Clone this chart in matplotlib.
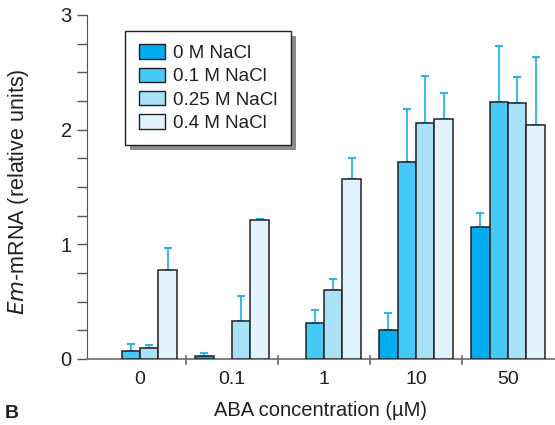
import numpy as np
import matplotlib
matplotlib.use('Agg')
import matplotlib.pyplot as plt
from matplotlib.patches import Rectangle
from matplotlib.transforms import IdentityTransform

plt.rcParams['font.family'] = ['Liberation Sans', 'DejaVu Sans']

# data (nan = no bar)
aba = ['0', '0.1', '1', '10', '50']
series = ['0 M NaCl', '0.1 M NaCl', '0.25 M NaCl', '0.4 M NaCl']
nacl_0 = [np.nan, 0.03, np.nan, 0.25, 1.15]
nacl_01 = [0.07, np.nan, 0.31, 1.72, 2.24]
nacl_025 = [0.10, 0.33, 0.60, 2.06, 2.23]
nacl_04 = [0.78, 1.21, 1.57, 2.09, 2.04]
err_0 = [np.nan, 0.02, np.nan, 0.15, 0.12]
err_01 = [0.06, np.nan, 0.12, 0.46, 0.49]
err_025 = [0.02, 0.22, 0.10, 0.41, 0.23]
err_04 = [0.19, 0.01, 0.18, 0.23, 0.59]

values = [nacl_0, nacl_01, nacl_025, nacl_04]
errors = [err_0, err_01, err_025, err_04]
colors = ['#00aeef', '#47c9f5', '#a9e1f9', '#e1f3fc']
err_color = '#2ab4ea'
ink = '#231f20'

fig = plt.figure(figsize=(5.55, 4.25), dpi=100)
ax = fig.add_axes([87 / 555, 66 / 425, 468 / 555, 344 / 425])

x = np.arange(len(aba))
w = 0.2
for i, (vals, errs) in enumerate(zip(values, errors)):
    vals = np.array(vals)
    errs = np.array(errs)
    pos = x + (i - 1.5) * w
    ok = ~np.isnan(vals)
    ax.bar(pos[ok], vals[ok], w, color=colors[i], edgecolor=ink,
           linewidth=1.1, zorder=3, label=series[i])
    ax.errorbar(pos[ok], vals[ok], yerr=[np.zeros(ok.sum()), errs[ok]],
                fmt='none', ecolor=err_color, elinewidth=1.3, capsize=3,
                capthick=1.5, zorder=2)

ax.set_xlim(-0.576, 4.51)
ax.set_ylim(0, 3)
ax.spines['top'].set_visible(False)
ax.spines['right'].set_visible(False)
ax.spines['left'].set_color('#555555')
ax.spines['bottom'].set_color('#777777')
ax.spines['bottom'].set_linewidth(1.3)

ax.set_yticks([0, 1, 2, 3])
ax.set_yticks(np.arange(0, 3.01, 0.25), minor=True)
ax.tick_params(axis='y', which='both', length=7, width=1, color='#555555',
               labelsize=14.5, labelcolor=ink, pad=4)
ax.set_xticks(x)
ax.set_xticklabels(aba)
ax.tick_params(axis='x', length=0, labelsize=14, labelcolor=ink, pad=9)
for b in x[:-1] + 0.5:
    ax.plot([b, b], [-0.045, 0.03], color='#666666', lw=1.2,
            clip_on=False, zorder=4)

ax.set_xlabel('ABA concentration (\u00b5M)', fontsize=14.5, color=ink,
              labelpad=9)
ax.set_ylabel('$\\mathit{Em}$-mRNA (relative units)', fontsize=15.5,
              color=ink)
ax.yaxis.set_label_coords(-0.12, 0.485)
fig.text(5 / 555, 1 - 414 / 425, 'B', fontsize=14, fontweight='bold',
         color=ink, va='center')

leg = ax.legend(loc='upper left', bbox_to_anchor=(0.082, 0.953),
                borderaxespad=0, fontsize=13.5, handlelength=1.39,
                handleheight=0.8, labelspacing=0.3, handletextpad=0.46,
                borderpad=0.7, frameon=True, fancybox=False,
                framealpha=1, labelcolor=ink)
leg.get_frame().set_edgecolor(ink)
leg.get_frame().set_linewidth(1.0)
leg.set_zorder(10)
for h in leg.legend_handles:
    h.set_edgecolor(ink)
    h.set_linewidth(1.0)

# offset gray shadow behind the legend box
fig.canvas.draw()
bb = leg.get_window_extent()
shadow = Rectangle((bb.x0 + 5, bb.y0 - 5), bb.width, bb.height,
                   transform=IdentityTransform(), facecolor='#8c8c8c',
                   edgecolor='none', zorder=9, clip_on=False)
ax.add_patch(shadow)

fig.savefig('out.png', dpi=100)
